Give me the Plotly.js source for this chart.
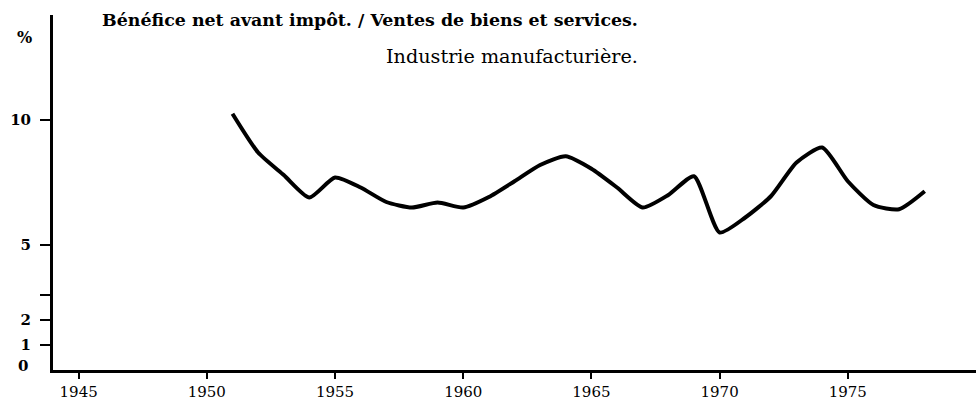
<!DOCTYPE html>
<html>
<head>
<meta charset="utf-8">
<script src="https://cdn.plot.ly/plotly-3.0.1.min.js"></script>
<style>html,body{margin:0;padding:0;background:#fff;}#chart{width:976px;height:405px;}</style>
</head>
<body>
<div id="chart"></div>
<script>
// Data
const years = [1951,1952,1953,1954,1955,1956,1957,1958,1959,1960,1961,1962,1963,1964,1965,1966,1967,1968,1969,1970,1971,1972,1973,1974,1975,1976,1977,1978];
const ratio = [10.25,8.7,7.8,6.9,7.7,7.3,6.72,6.5,6.7,6.5,6.92,7.55,8.2,8.55,8.05,7.3,6.5,7.0,7.75,5.5,6.1,6.95,8.3,8.9,7.55,6.6,6.43,7.15];
const xTickVals = [1945,1950,1955,1960,1965,1970,1975];
const yTickVals = [1,2,3,5,10];
const yTickText = ['<b>1</b>','<b>2</b>','','<b>5</b>','<b>10</b>'];
const titleLine1 = 'Bénéfice net avant impôt. / Ventes de biens et services.';
const titleLine2 = 'Industrie manufacturière.';
const unitLabel = '%';

const serif = 'DejaVu Serif, Liberation Serif, serif';

const trace = {
  x: years, y: ratio, type: 'scatter', mode: 'lines',
  line: {color: '#000', width: 4, shape: 'spline', smoothing: 0.6},
  hoverinfo: 'skip'
};

const layout = {
  width: 976, height: 405,
  margin: {l: 53, r: 0, t: 15, b: 35},
  paper_bgcolor: '#fff', plot_bgcolor: '#fff',
  showlegend: false,
  title: {
    text: '<b>' + titleLine1 + '</b>',
    font: {family: serif, size: 17.4, color: '#000'},
    x: 370/976, xanchor: 'center', xref: 'container',
    y: 1 - 20/405, yanchor: 'middle', yref: 'container'
  },
  xaxis: {
    range: [1944, 1980], tickvals: xTickVals, ticktext: xTickVals.map(String),
    showline: true, linecolor: '#000', linewidth: 3,
    ticks: 'outside', ticklen: 6, tickwidth: 2, tickcolor: '#000',
    showgrid: false, zeroline: false,
    tickfont: {family: serif, size: 15, color: '#000'}
  },
  yaxis: {
    range: [0, 14.2], tickvals: yTickVals, ticktext: yTickText,
    showline: true, linecolor: '#000', linewidth: 3,
    ticks: 'outside', ticklen: 10, tickwidth: 2, tickcolor: '#000',
    ticklabelstandoff: 6,
    showgrid: false, zeroline: false,
    tickfont: {family: serif, size: 15, color: '#000'}
  },
  annotations: [
    {text: titleLine2, xref: 'paper', yref: 'paper', x: (640-53)/923, y: (370-57)/355,
     xanchor: 'right', yanchor: 'middle', showarrow: false,
     font: {family: serif, size: 19.2, color: '#000'}},
    {text: '<b>' + unitLabel + '</b>', xref: 'paper', yref: 'paper', x: (24-53)/923, y: (370-37)/355,
     xanchor: 'center', yanchor: 'middle', showarrow: false,
     font: {family: serif, size: 16, color: '#000'}},
    {text: '<b>0</b>', xref: 'paper', yref: 'y', x: (23-53)/923, y: 0.15,
     xanchor: 'center', yanchor: 'middle', showarrow: false,
     font: {family: serif, size: 15, color: '#000'}}
  ]
};

Plotly.newPlot('chart', [trace], layout, {staticPlot: true, displayModeBar: false});
</script>
</body>
</html>
